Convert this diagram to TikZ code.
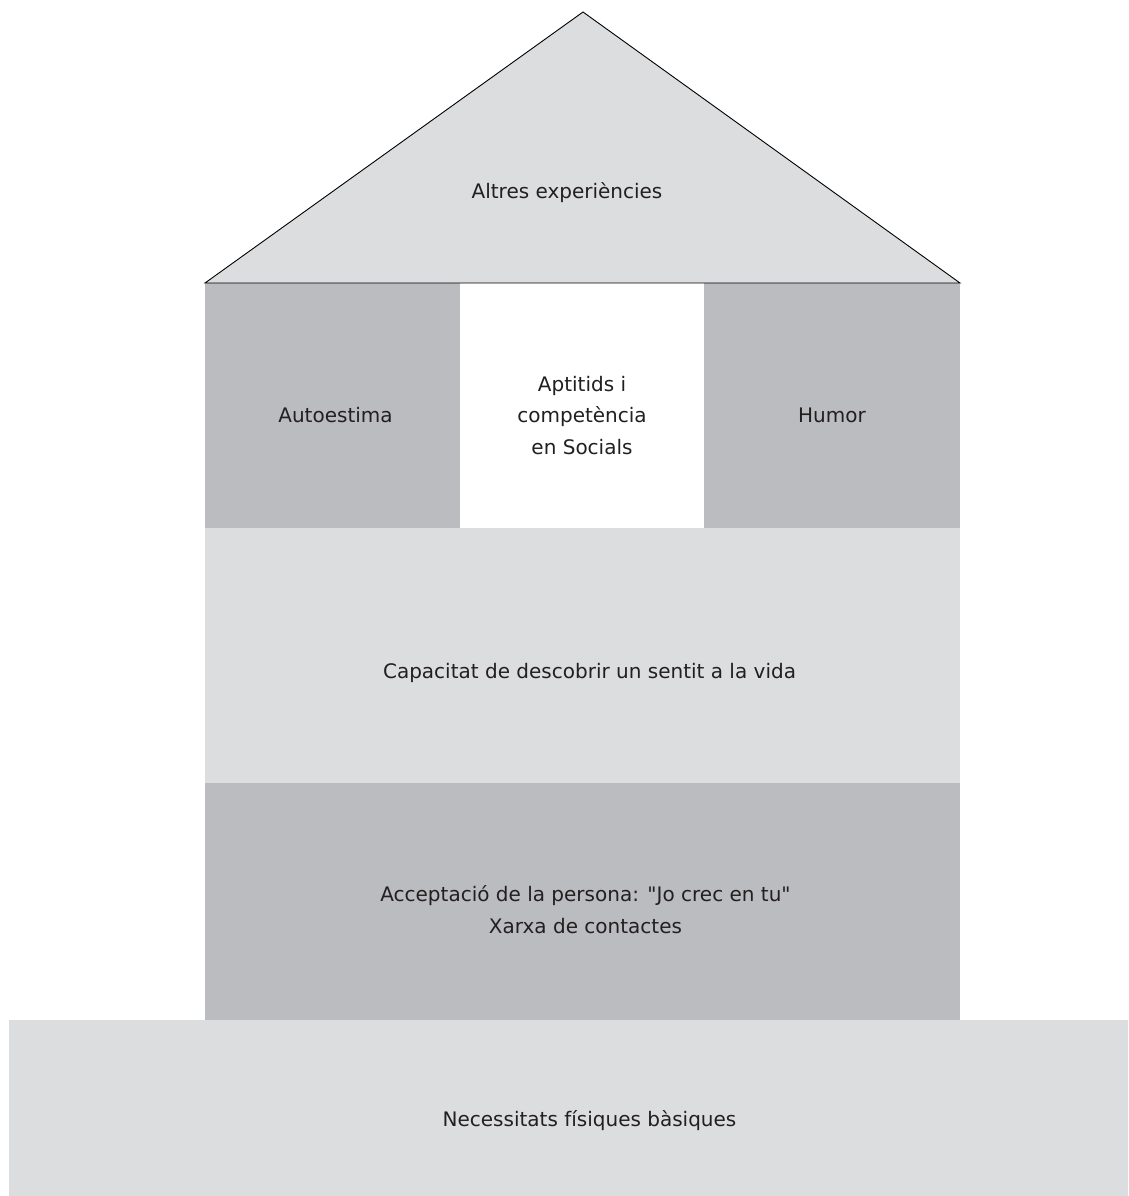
\documentclass[tikz,border=0pt]{standalone}
\usepackage{fontspec}
\setmainfont{DejaVu Sans}
\usepackage{xcolor}
\definecolor{WallDark}{HTML}{BBBCC0}
\definecolor{WallLight}{HTML}{DCDDDF}
\definecolor{InkGrey}{HTML}{231F20}
\usepackage{tikz}
\usetikzlibrary{positioning}
\tikzstyle{block} = [rectangle, inner sep=0pt, outer sep=0pt, anchor=north west]
\tikzstyle{caption} = [text=InkGrey, align=center, inner sep=0pt, font=\fontsize{20}{31.5}\selectfont]
\tikzstyle{roofline} = [draw=black, line width=0.9pt, line join=miter]

\begin{document}
\begin{tikzpicture}[x=1pt, y=-1pt]
        \useasboundingbox (0,0) rectangle (1128,1196);
        % Roof
        \coordinate (eaveL) at (205,283);
        \coordinate (eaveR) at (960,283);
        \coordinate (apex) at (583,12);
        \fill [WallLight] (eaveL) -- (apex) -- (eaveR) -- cycle;
        \node [caption] (roof) at (567,193) {Altres experiències};

        % Pillars
        \node [block, fill=WallDark, minimum width=255pt, minimum height=245pt,
               label={[caption, yshift=-10pt, xshift=3pt]center:Autoestima}] (esteem) at (eaveL) {};
        \node [block, fill=white, minimum width=244pt, minimum height=245pt, right=0pt of esteem,
               label={[caption, yshift=-10pt]center:Aptitids i\\competència\\en Socials}] (skills) {};
        \node [block, fill=WallDark, minimum width=256pt, minimum height=245pt, right=0pt of skills,
               label={[caption, yshift=-10pt]center:Humor}] (humor) {};

        % Floors
        \node [block, fill=WallLight, minimum width=755pt, minimum height=255pt,
               label={[caption, yshift=-17pt, xshift=7pt]center:Capacitat de descobrir un sentit a la vida}] (meaning) at (esteem.south west) {};
        \node [block, fill=WallDark, minimum width=755pt, minimum height=237pt,
               label={[caption, yshift=-8pt, xshift=3pt]center:Acceptació de la persona: \textquotedbl Jo crec en tu\textquotedbl\\Xarxa de contactes}] (accept) at (meaning.south west) {};

        % Foundation
        \node [block, fill=WallLight, minimum width=1119pt, minimum height=176pt,
               label={[caption, yshift=-13pt, xshift=21pt]center:Necessitats físiques bàsiques}] (needs) at (9,1020) {};

        \draw [roofline] (eaveL) -- (apex) -- (eaveR) -- cycle;
    \end{tikzpicture}
\end{document}
